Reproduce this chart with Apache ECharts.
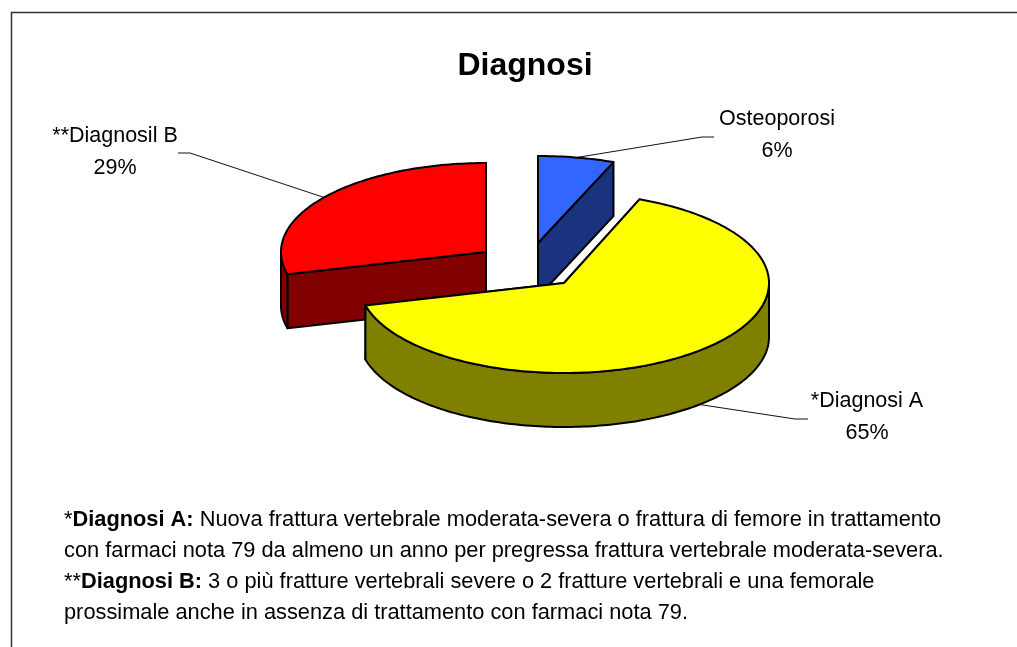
<!DOCTYPE html>
<html lang="en">
<head>
    <meta charset="UTF-8">
    <title>Diagnosi</title>
    <style>
        html, body { margin: 0; padding: 0; background: #fff; }
        #J-pie-container { width: 1017px; height: 647px; }
    </style>
</head>
<body>
<div id="J-pie-container"></div>
<script src="https://cdn.jsdelivr.net/npm/echarts@6/dist/echarts.min.js"></script>
<script>
    var titleText = 'Diagnosi';
    var categories = ['Osteoporosi', '*Diagnosi A', '**Diagnosil B'];
    var percentages = [6, 65, 29];
    var noteLines = [
        '*{b|Diagnosi A:} Nuova frattura vertebrale moderata-severa o frattura di femore in trattamento',
        'con farmaci nota 79 da almeno un anno per pregressa frattura vertebrale moderata-severa.',
        '**{b|Diagnosi B:} 3 o più fratture vertebrali severe o 2 fratture vertebrali e una femorale',
        'prossimale anche in assenza di trattamento con farmaci nota 79.'
    ];

    // drawing set-up of the 3d pie, one entry per slice
    var topColors = ['#3366ff', '#ffff00', '#ff0000'];
    var sideColors = ['#1a337f', '#808000', '#800000'];
    var apexes = [[538, 243], [564, 283], [486, 252]];
    var radiiY = [87, 90, 89];
    var labelAnchors = [[777, 135], [867, 417], [115, 152]];
    var leaderEnds = [[[702, 137], [714, 137]], [[795, 419], [808, 419]], [[190, 153], [178, 153]]];
    var radiusX = 205;
    var depth = 54;
    var fontFamily = '"Liberation Sans", Arial, sans-serif';

    function slicePoint(i, angle, drop) {
        return [
            apexes[i][0] + radiusX * Math.cos(angle),
            apexes[i][1] + radiiY[i] * Math.sin(angle) + drop
        ];
    }

    function arcPoints(i, from, to, drop) {
        var points = [];
        var steps = Math.max(2, Math.ceil(Math.abs(to - from) / 0.02));
        for (var k = 0; k <= steps; k++) {
            points.push(slicePoint(i, from + (to - from) * k / steps, drop));
        }
        return points;
    }

    function polygon(points, fill, order) {
        return {
            type: 'polygon',
            z2: order,
            shape: { points: points },
            style: { fill: fill, stroke: '#000', lineWidth: 2, lineJoin: 'round' }
        };
    }

    function cutFace(apex, point, fill, order) {
        return polygon([
            apex, point, [point[0], point[1] + depth], [apex[0], apex[1] + depth]
        ], fill, order);
    }

    function renderSlice(params, api) {
        var i = params.dataIndex;
        var before = percentages.slice(0, i).reduce(function (a, b) { return a + b; }, 0);
        var from = -Math.PI / 2 + before / 100 * Math.PI * 2;
        var to = from + api.value(0) / 100 * Math.PI * 2;
        var apex = apexes[i];
        var order = apex[1];
        var children = [];

        children.push(cutFace(apex, slicePoint(i, from, 0), sideColors[i], order));
        children.push(cutFace(apex, slicePoint(i, to, 0), sideColors[i], order));

        // only the front part of the rim can be seen
        var rimFrom = Math.max(from, 0);
        var rimTo = Math.min(to, Math.PI);
        if (rimTo > rimFrom) {
            children.push(polygon(
                arcPoints(i, rimFrom, rimTo, 0).concat(arcPoints(i, rimTo, rimFrom, depth)),
                sideColors[i], order
            ));
        }

        children.push(polygon([apex].concat(arcPoints(i, from, to, 0)), topColors[i], order));

        // leader line starts on the edge at the middle of the slice
        var mid = (from + to) / 2;
        var start = slicePoint(i, mid, Math.sin(mid) > 0 ? depth : 0);
        children.push({
            type: 'polyline',
            z2: 0,
            shape: { points: [start].concat(leaderEnds[i]) },
            style: { fill: null, stroke: '#111', lineWidth: 1 }
        });

        children.push({
            type: 'text',
            z2: 200,
            style: {
                x: labelAnchors[i][0],
                y: labelAnchors[i][1],
                text: categories[i] + '\n' + api.value(0) + '%',
                fill: '#000',
                font: '21.5px ' + fontFamily,
                lineHeight: 32,
                align: 'center',
                verticalAlign: 'middle'
            }
        });

        return { type: 'group', children: children };
    }

    var chart = echarts.init(document.getElementById('J-pie-container'));

    var option = {
        animation: false,
        backgroundColor: '#fff',
        title: {
            text: titleText,
            left: 525,
            top: 50,
            textAlign: 'center',
            textVerticalAlign: 'top',
            padding: 0,
            textStyle: { fontFamily: fontFamily, fontSize: 32, fontWeight: 'bold', color: '#000' }
        },
        graphic: [
            {
                type: 'polyline',
                silent: true,
                shape: { points: [[11.5, 647], [11.5, 12.5], [1017, 12.5]] },
                style: { fill: null, stroke: '#333', lineWidth: 1.5 }
            },
            {
                type: 'text',
                left: 64,
                top: 504,
                silent: true,
                style: {
                    text: noteLines.join('\n'),
                    fill: '#000',
                    font: '21.8px ' + fontFamily,
                    lineHeight: 31,
                    rich: {
                        b: { font: 'bold 21.8px ' + fontFamily, lineHeight: 31 }
                    }
                }
            }
        ],
        series: [
            {
                type: 'custom',
                coordinateSystem: 'none',
                silent: true,
                renderItem: renderSlice,
                data: percentages.map(function (value) { return [value]; })
            }
        ]
    };

    chart.setOption(option);
</script>
</body>
</html>
